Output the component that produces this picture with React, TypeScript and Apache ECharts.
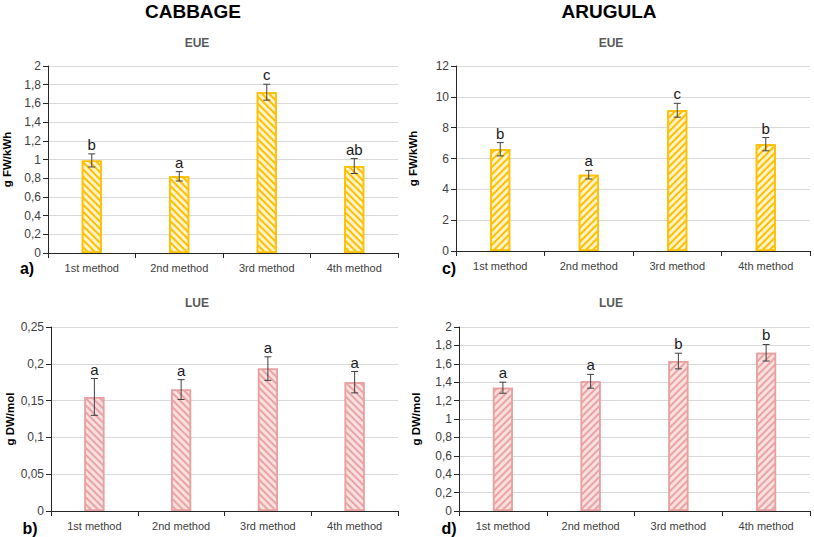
import React, { useEffect, useRef } from "react";
import * as echarts from "echarts";

const categories = ["1st method", "2nd method", "3rd method", "4th method"];

const cabbageEUE = [0.99, 0.82, 1.72, 0.93];
const cabbageEUEErr = [0.07, 0.05, 0.085, 0.08];
const cabbageEUELetters = ["b", "a", "c", "ab"];

const arugulaEUE = [6.6, 4.95, 9.13, 6.93];
const arugulaEUEErr = [0.43, 0.28, 0.45, 0.43];
const arugulaEUELetters = ["b", "a", "c", "b"];

const cabbageLUE = [0.155, 0.165, 0.1935, 0.175];
const cabbageLUEErr = [0.025, 0.0135, 0.016, 0.0145];
const cabbageLUELetters = ["a", "a", "a", "a"];

const arugulaLUE = [1.34, 1.41, 1.63, 1.72];
const arugulaLUEErr = [0.06, 0.075, 0.085, 0.09];
const arugulaLUELetters = ["a", "a", "b", "b"];

const FONT = "'Liberation Sans', Arial, sans-serif";

const fmt = (v: number) => String(+v.toFixed(3)).replace(".", ",");

export default function App() {
  const ref = useRef<HTMLDivElement>(null);
  useEffect(() => {
    document.body.style.margin = "0";
    const chart = echarts.init(ref.current!, null, { renderer: "svg" });

    const panels = [
      { grid: { left: 46, top: 66, width: 352, height: 187 }, max: 2, interval: 0.2, name: "g FW/kWh", vals: cabbageEUE, errs: cabbageEUEErr, letters: cabbageEUELetters, eue: true, rot: 1 },
      { grid: { left: 456, top: 66, width: 354, height: 185 }, max: 12, interval: 2, name: "g FW/kWh", vals: arugulaEUE, errs: arugulaEUEErr, letters: arugulaEUELetters, eue: true, rot: -1 },
      { grid: { left: 51, top: 327, width: 347, height: 184 }, max: 0.25, interval: 0.05, name: "g DW/mol", vals: cabbageLUE, errs: cabbageLUEErr, letters: cabbageLUELetters, eue: false, rot: 1 },
      { grid: { left: 459, top: 327, width: 351, height: 184 }, max: 2, interval: 0.2, name: "g DW/mol", vals: arugulaLUE, errs: arugulaLUEErr, letters: arugulaLUELetters, eue: false, rot: -1 },
    ];

    const grids: any[] = [];
    const xAxes: any[] = [];
    const yAxes: any[] = [];
    const series: any[] = [];

    panels.forEach((p, i) => {
      grids.push(p.grid);
      xAxes.push({
        type: "category",
        gridIndex: i,
        data: categories,
        axisLine: { lineStyle: { color: "#262626", width: 1 } },
        axisTick: { show: true, length: 5, lineStyle: { color: "#262626" } },
        axisLabel: { color: "#404040", fontSize: 11, fontFamily: FONT, margin: 9 },
      });
      yAxes.push({
        type: "value",
        gridIndex: i,
        min: 0,
        max: p.max,
        interval: p.interval,
        name: p.name,
        nameLocation: "middle",
        nameGap: i % 2 === 0 ? 35 : 37,
        nameTextStyle: { color: "#000", fontSize: 11.5, fontWeight: "bold", fontFamily: FONT },
        axisLine: { show: true, lineStyle: { color: "#262626", width: 1 } },
        axisTick: { show: true, length: 5, lineStyle: { color: "#262626" } },
        axisLabel: { color: "#404040", fontSize: 12, fontFamily: FONT, margin: 7, formatter: (v: number) => fmt(v) },
        splitLine: { show: true, lineStyle: { color: "#D9D9D9", width: 1 } },
      });
      const border = p.eue ? "#FFC000" : "#E8A0A0";
      const base = p.eue ? "#FFF2CC" : "#F9E0E0";
      const stripe = p.eue ? "#FFC000" : "#EBA3A3";
      series.push({
        type: "bar",
        xAxisIndex: i,
        yAxisIndex: i,
        data: p.vals,
        barWidth: 20,
        itemStyle: {
          color: base,
          borderColor: border,
          borderWidth: 1.5,
          decal: {
            symbol: "rect",
            symbolSize: 1,
            color: stripe,
            dashArrayX: [1, 0],
            dashArrayY: [2, 2.5],
            rotation: (p.rot * Math.PI) / 4,
          },
        },
        z: 2,
      });
      series.push({
        type: "custom",
        xAxisIndex: i,
        yAxisIndex: i,
        z: 5,
        data: p.vals.map((v, k) => [k, v, p.errs[k], k]),
        renderItem: (params: any, api: any) => {
          const x = api.value(0);
          const m = api.value(1);
          const e = api.value(2);
          const idx = api.value(3);
          const top = api.coord([x, m + e]);
          const bot = api.coord([x, m - e]);
          const cw = 3.5;
          const ls = { stroke: "#404040", lineWidth: 1 };
          return {
            type: "group",
            children: [
              { type: "line", shape: { x1: top[0], y1: top[1], x2: bot[0], y2: bot[1] }, style: ls },
              { type: "line", shape: { x1: top[0] - cw, y1: top[1], x2: top[0] + cw, y2: top[1] }, style: ls },
              { type: "line", shape: { x1: bot[0] - cw, y1: bot[1], x2: bot[0] + cw, y2: bot[1] }, style: ls },
              {
                type: "text",
                style: {
                  text: p.letters[idx],
                  x: top[0],
                  y: top[1] - 2,
                  align: "center",
                  verticalAlign: "bottom",
                  textAlign: "center",
                  textVerticalAlign: "bottom",
                  fontSize: 15,
                  fontFamily: FONT,
                  fill: "#1a1a1a",
                },
              },
            ],
          };
        },
      });
    });

    const txt = (text: string, x: number, y: number, size: number, color: string, align = "center") => ({
      type: "text",
      x,
      y,
      style: { text, fontSize: size, fontWeight: "bold", fontFamily: FONT, fill: color, align, verticalAlign: "middle", textAlign: align, textVerticalAlign: "middle" },
    });

    chart.setOption({
      animation: false,
      backgroundColor: "#fff",
      grid: grids,
      xAxis: xAxes,
      yAxis: yAxes,
      series,
      graphic: [
        txt("CABBAGE", 193, 11, 19, "#000"),
        txt("ARUGULA", 609, 11, 19, "#000"),
        txt("EUE", 197, 43, 12, "#595959"),
        txt("EUE", 611, 43, 12, "#595959"),
        txt("LUE", 197, 303, 12, "#595959"),
        txt("LUE", 611, 303, 12, "#595959"),
        txt("a)", 27, 268, 16, "#000"),
        txt("c)", 449, 268, 16, "#000"),
        txt("b)", 30, 528, 16, "#000"),
        txt("d)", 449, 528, 16, "#000"),
      ],
    });
    return () => chart.dispose();
  }, []);
  return <div ref={ref} style={{ width: 814, height: 537 }} />;
}
